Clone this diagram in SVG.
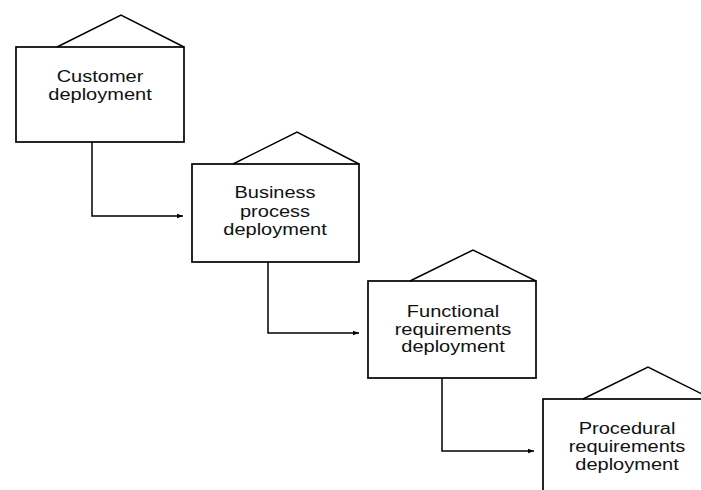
<svg xmlns="http://www.w3.org/2000/svg" width="701" height="490" viewBox="0 0 701 490">
<style>
.box{fill:#fff;stroke:#000;stroke-width:1.7}
.roof{fill:none;stroke:#000;stroke-width:1.5;stroke-linejoin:miter}
.lbl{font-family:"Liberation Sans",Arial,sans-serif;font-size:16px;fill:#111;text-anchor:middle}
.con{fill:none;stroke:#000;stroke-width:1.5}
</style>
<defs>
<marker id="ah" markerWidth="7" markerHeight="6" refX="6" refY="3" orient="auto" markerUnits="userSpaceOnUse">
<path d="M0,0.8 L6,3 L0,5.2 Z" fill="#000"/>
</marker>
</defs>
<rect width="701" height="490" fill="#fff"/>
<g id="connectors">
<path class="con" d="M92,142 V216 H183" marker-end="url(#ah)"/>
<path class="con" d="M268,262 V333 H359" marker-end="url(#ah)"/>
<path class="con" d="M442,378 V451 H534" marker-end="url(#ah)"/>
</g>
<g id="n1">
<rect class="box" x="16" y="47" width="168" height="95"/>
<path class="roof" d="M57,47 L121,15 L184,47"/>
<g transform="translate(100 0) scale(1.25 1)">
<text class="lbl" x="0" y="82">Customer</text>
<text class="lbl" x="0" y="100">deployment</text>
</g>
</g>
<g id="n2">
<rect class="box" x="192" y="164" width="167" height="98"/>
<path class="roof" d="M233,164 L297,132 L359,164"/>
<g transform="translate(275 0) scale(1.25 1)">
<text class="lbl" x="0" y="198">Business</text>
<text class="lbl" x="0" y="217">process</text>
<text class="lbl" x="0" y="235">deployment</text>
</g>
</g>
<g id="n3">
<rect class="box" x="368" y="281" width="168" height="97"/>
<path class="roof" d="M410,281 L473,250 L536,281"/>
<g transform="translate(453 0) scale(1.25 1)">
<text class="lbl" x="0" y="317">Functional</text>
<text class="lbl" x="0" y="335">requirements</text>
<text class="lbl" x="0" y="352">deployment</text>
</g>
</g>
<g id="n4">
<rect class="box" x="543" y="399" width="168" height="100"/>
<path class="roof" d="M583,399 L648,367 L712,399"/>
<g transform="translate(627 0) scale(1.25 1)">
<text class="lbl" x="0" y="434">Procedural</text>
<text class="lbl" x="0" y="452">requirements</text>
<text class="lbl" x="0" y="470">deployment</text>
</g>
</g>
</svg>
